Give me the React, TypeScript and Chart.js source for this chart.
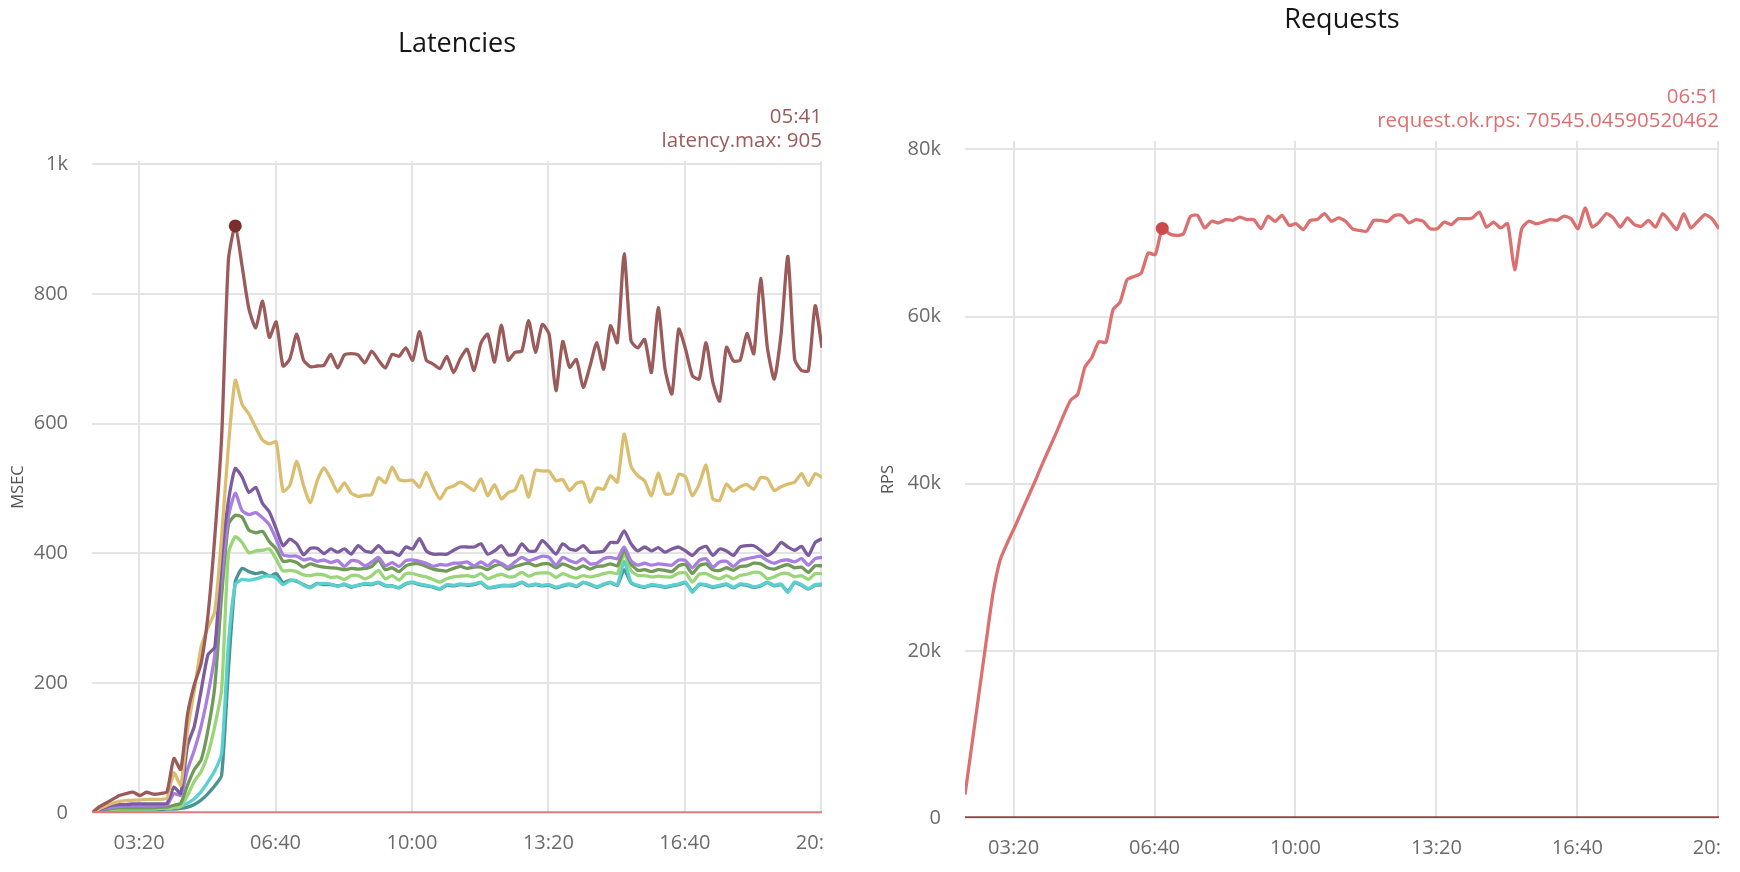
import React, { useEffect, useRef } from "react";
import { Chart, registerables } from "chart.js";

Chart.register(...registerables);

// ---- time axis (seconds since start) ----
const times = [
  131, 141, 151, 161, 171, 181, 191, 201, 211, 221,
  231, 241, 251, 261, 271, 281, 291, 301, 311, 321,
  331, 341, 351, 361, 371, 381, 391, 401, 411, 421,
  431, 441, 451, 461, 471, 481, 491, 501, 511, 521,
  531, 541, 551, 561, 571, 581, 591, 601, 611, 621,
  631, 641, 651, 661, 671, 681, 691, 701, 711, 721,
  731, 741, 751, 761, 771, 781, 791, 801, 811, 821,
  831, 841, 851, 861, 871, 881, 891, 901, 911, 921,
  931, 941, 951, 961, 971, 981, 991, 1001, 1011, 1021,
  1031, 1041, 1051, 1061, 1071, 1081, 1091, 1101, 1111, 1121,
  1131, 1141, 1151, 1161, 1171, 1181, 1191, 1201,
];
const xTickValues = [200, 400, 600, 800, 1000, 1200];
const latencyTickValues = [0, 200, 400, 600, 800, 1000];
const rpsTickValues = [0, 20000, 40000, 60000, 80000];

// ---- Latencies (msec) ----
const latMax = [
  0, 9, 15, 21, 27, 30, 32, 27, 32, 29,
  30, 33, 84, 67, 152, 198, 231, 305, 426, 579,
  853, 905, 843, 777, 748, 789, 733, 757, 689, 700,
  738, 698, 688, 689, 690, 707, 686, 706, 708, 706,
  694, 712, 698, 686, 707, 704, 717, 698, 742, 698,
  692, 685, 704, 679, 701, 715, 682, 724, 738, 695,
  752, 698, 710, 712, 759, 710, 753, 738, 651, 727,
  687, 699, 656, 689, 725, 684, 751, 725, 862, 728,
  717, 730, 679, 779, 684, 646, 746, 715, 674, 669,
  725, 664, 635, 718, 697, 698, 739, 708, 824, 717,
  669, 738, 858, 699, 682, 682, 782, 717,
];
const latP999 = [
  0, 6, 11, 15, 18, 19, 20, 20, 21, 21,
  21, 23, 62, 43, 128, 189, 256, 286, 311, 426,
  566, 667, 630, 615, 594, 575, 569, 572, 496, 505,
  542, 505, 478, 512, 532, 515, 495, 509, 493, 488,
  490, 491, 517, 509, 533, 514, 512, 513, 502, 525,
  502, 484, 500, 504, 510, 504, 497, 515, 489, 506,
  484, 494, 498, 520, 487, 528, 527, 527, 512, 514,
  497, 508, 510, 479, 501, 499, 520, 510, 584, 535,
  520, 512, 489, 524, 492, 493, 522, 518, 489, 507,
  536, 484, 482, 507, 496, 503, 506, 499, 517, 515,
  497, 503, 507, 510, 523, 505, 523, 517,
];
const latP99 = [
  0, 5, 9, 12, 13, 13, 14, 14, 14, 14,
  14, 15, 40, 30, 104, 134, 189, 244, 256, 396,
  481, 531, 518, 494, 502, 477, 464, 438, 412, 422,
  415, 398, 408, 408, 400, 407, 402, 407, 399, 412,
  404, 402, 412, 402, 402, 397, 410, 407, 423, 404,
  399, 399, 399, 405, 410, 410, 410, 415, 399, 404,
  412, 398, 399, 415, 404, 404, 420, 410, 399, 415,
  407, 405, 412, 402, 402, 404, 417, 417, 435, 415,
  404, 410, 404, 409, 402, 407, 410, 404, 397, 407,
  411, 397, 407, 404, 397, 410, 412, 412, 405, 397,
  404, 417, 410, 405, 411, 397, 417, 423,
];
const latP95 = [
  0, 4, 7, 9, 10, 11, 11, 11, 11, 11,
  12, 12, 30, 27, 67, 97, 134, 183, 244, 365,
  457, 493, 466, 460, 463, 455, 444, 422, 398, 396,
  396, 390, 392, 388, 390, 386, 389, 380, 389, 388,
  381, 387, 394, 381, 386, 380, 389, 390, 388, 385,
  380, 383, 382, 385, 385, 387, 381, 387, 381, 389,
  385, 379, 387, 394, 389, 392, 396, 394, 382, 394,
  389, 386, 392, 384, 385, 392, 394, 392, 410, 389,
  382, 385, 382, 384, 383, 382, 390, 389, 378, 389,
  392, 379, 387, 388, 380, 389, 392, 394, 396, 389,
  385, 389, 390, 387, 392, 382, 392, 394,
];
const latP90 = [
  0, 3, 5, 7, 8, 8, 8, 8, 8, 8,
  9, 9, 12, 15, 43, 67, 82, 128, 195, 335,
  445, 459, 456, 436, 432, 434, 418, 407, 388, 389,
  386, 379, 384, 381, 379, 378, 377, 375, 377, 376,
  377, 380, 390, 375, 378, 372, 381, 384, 384, 380,
  376, 374, 373, 377, 380, 377, 379, 379, 375, 381,
  383, 376, 380, 383, 385, 381, 384, 384, 378, 384,
  380, 376, 381, 376, 380, 381, 384, 381, 405, 384,
  374, 375, 372, 375, 374, 372, 381, 383, 369, 381,
  384, 375, 374, 378, 374, 380, 381, 385, 384, 378,
  376, 380, 383, 378, 379, 371, 381, 381,
];
const latP75 = [
  0, 2, 4, 5, 6, 6, 6, 6, 6, 6,
  7, 7, 8, 10, 27, 49, 64, 91, 134, 190,
  400, 426, 417, 401, 404, 405, 407, 391, 373, 374,
  372, 367, 366, 368, 367, 363, 364, 360, 366, 366,
  361, 366, 374, 361, 366, 359, 369, 369, 366, 364,
  360, 356, 361, 364, 365, 366, 364, 369, 361, 365,
  368, 364, 365, 371, 365, 369, 370, 370, 363, 369,
  365, 362, 366, 364, 366, 369, 371, 369, 400, 374,
  366, 366, 364, 365, 364, 364, 370, 370, 356, 368,
  369, 364, 361, 366, 361, 366, 368, 371, 370, 361,
  364, 369, 369, 364, 366, 360, 369, 369,
];
const latP50 = [
  0, 2, 4, 6, 7, 8, 8, 8, 8, 8,
  8, 8, 9, 10, 15, 22, 33, 48, 65, 92,
  262, 352, 360, 359, 361, 364, 366, 362, 352, 358,
  358, 351, 347, 353, 354, 353, 349, 353, 349, 351,
  354, 353, 356, 351, 349, 348, 354, 356, 353, 351,
  349, 346, 352, 351, 353, 352, 353, 356, 348, 349,
  351, 351, 352, 356, 351, 353, 351, 352, 348, 351,
  353, 350, 356, 353, 349, 353, 356, 352, 388, 356,
  351, 349, 352, 351, 349, 351, 353, 356, 340, 353,
  352, 349, 351, 353, 348, 353, 352, 349, 351, 356,
  351, 353, 340, 356, 352, 346, 352, 353,
];
const latMin = [
  0, 2, 3, 4, 5, 5, 5, 5, 5, 5,
  5, 6, 6, 7, 9, 13, 20, 30, 42, 58,
  222, 356, 377, 372, 369, 371, 365, 369, 355, 359,
  357, 352, 348, 354, 352, 352, 350, 352, 348, 351,
  353, 352, 355, 350, 350, 347, 353, 355, 352, 350,
  348, 345, 351, 350, 352, 351, 352, 355, 347, 348,
  350, 350, 351, 355, 350, 352, 350, 351, 347, 350,
  352, 349, 355, 352, 348, 352, 355, 351, 375, 355,
  350, 348, 351, 350, 348, 350, 352, 355, 342, 352,
  351, 348, 350, 352, 347, 352, 351, 348, 350, 355,
  350, 352, 342, 355, 351, 345, 351, 352,
];
const latErrors = [
  0, 0, 0, 0, 0, 0, 0, 0, 0, 0,
  0, 0, 0, 0, 0, 0, 0, 0, 0, 0,
  0, 0, 0, 0, 0, 0, 0, 0, 0, 0,
  0, 0, 0, 0, 0, 0, 0, 0, 0, 0,
  0, 0, 0, 0, 0, 0, 0, 0, 0, 0,
  0, 0, 0, 0, 0, 0, 0, 0, 0, 0,
  0, 0, 0, 0, 0, 0, 0, 0, 0, 0,
  0, 0, 0, 0, 0, 0, 0, 0, 0, 0,
  0, 0, 0, 0, 0, 0, 0, 0, 0, 0,
  0, 0, 0, 0, 0, 0, 0, 0, 0, 0,
  0, 0, 0, 0, 0, 0, 0, 0,
];

// ---- Requests (rps) ----
const rpsOk = [
  2800, 8900, 15000, 21100, 27000, 30900, 32900, 34700, 36600, 38500,
  40400, 42400, 44300, 46200, 48200, 50000, 50700, 53900, 55100, 57000,
  56900, 60800, 61700, 64400, 64800, 65200, 67600, 67400, 70545.04590520462, 69900,
  69700, 69900, 72000, 72100, 70600, 71400, 71200, 71600, 71500, 71900,
  71600, 71600, 70500, 72000, 71400, 72100, 70900, 71100, 70400, 71500,
  71600, 72300, 71400, 71800, 71400, 70500, 70300, 70200, 71500, 71500,
  71400, 72100, 72100, 71200, 71600, 71400, 70500, 70500, 71300, 71000,
  71700, 71700, 71800, 72500, 70700, 71300, 70600, 71100, 65600, 70500,
  71400, 71100, 71300, 71600, 71500, 72000, 71700, 70500, 73000, 70700,
  71300, 72300, 71800, 70700, 71800, 71000, 70800, 71500, 70700, 72300,
  71400, 70400, 72300, 70600, 71400, 72200, 71700, 70500,
];
const rpsErrors = [
  0, 0, 0, 0, 0, 0, 0, 0, 0, 0,
  0, 0, 0, 0, 0, 0, 0, 0, 0, 0,
  0, 0, 0, 0, 0, 0, 0, 0, 0, 0,
  0, 0, 0, 0, 0, 0, 0, 0, 0, 0,
  0, 0, 0, 0, 0, 0, 0, 0, 0, 0,
  0, 0, 0, 0, 0, 0, 0, 0, 0, 0,
  0, 0, 0, 0, 0, 0, 0, 0, 0, 0,
  0, 0, 0, 0, 0, 0, 0, 0, 0, 0,
  0, 0, 0, 0, 0, 0, 0, 0, 0, 0,
  0, 0, 0, 0, 0, 0, 0, 0, 0, 0,
  0, 0, 0, 0, 0, 0, 0, 0,
];

const latMarkTime = 341;
const rpsMarkTime = 411;

const FONT = "'Open Sans', sans-serif";
const GRID = "#e4e4e4";
const TICK = "#6b6b6b";

Chart.defaults.font.family = FONT;

const fmtTime = (s: number) => {
  const m = Math.floor(s / 60);
  const ss = Math.round(s % 60);
  return `${String(m).padStart(2, "0")}:${String(ss).padStart(2, "0")}`;
};

const pts = (arr: number[]) => times.map((t, i) => ({ x: t, y: arr[i] }));

const line = (label: string, arr: number[], color: string, mark?: { t: number; color: string }) => ({
  label,
  data: pts(arr),
  borderColor: color,
  backgroundColor: color,
  borderWidth: 3.3,
  tension: 0.2,
  fill: false,
  pointRadius: (c: any) => (mark && times[c.dataIndex] === mark.t ? 6.5 : 0),
  pointBackgroundColor: mark ? mark.color : color,
  pointBorderWidth: 0,
  pointHoverRadius: 0,
});

function baseOptions(o: {
  title: string;
  titlePad: { top: number; bottom: number };
  sub: string[];
  subColor: string;
  yMax: number;
  yTicks: number[];
  yFmt: (v: number) => string;
  yTitle: string;
  yWidth: number;
  xHeight: number;
}) {
  return {
    responsive: false,
    animation: false as const,
    events: [] as any[],
    layout: { padding: { left: 0, right: 1, top: 0, bottom: 0 } },
    plugins: {
      legend: { display: false },
      tooltip: { enabled: false },
      title: {
        display: true,
        text: o.title,
        fullSize: false,
        color: "#161616",
        font: { family: FONT, size: 27, weight: "normal" as const, lineHeight: 1.2 },
        padding: o.titlePad,
      },
      subtitle: {
        display: true,
        text: o.sub,
        align: "end" as const,
        fullSize: false,
        color: o.subColor,
        font: { family: FONT, size: 20.5, weight: "normal" as const, lineHeight: 24 / 20.5 },
        padding: { top: 2, bottom: 8 },
      },
    },
    scales: {
      x: {
        type: "linear" as const,
        min: times[0],
        max: times[times.length - 1],
        afterBuildTicks: (s: any) => {
          s.ticks = xTickValues.map((v) => ({ value: v }));
        },
        afterFit: (s: any) => {
          s.height = o.xHeight;
          s.paddingLeft = 0;
          s.paddingRight = 0;
        },
        ticks: {
          callback: (v: any) => fmtTime(Number(v)),
          color: TICK,
          font: { family: FONT, size: 20 },
          padding: 18,
          maxRotation: 0,
          autoSkip: false,
        },
        grid: { color: GRID, lineWidth: 2, drawTicks: false },
        border: { display: false },
      },
      y: {
        min: 0,
        max: o.yMax,
        afterBuildTicks: (s: any) => {
          s.ticks = o.yTicks.map((v) => ({ value: v }));
        },
        afterFit: (s: any) => {
          s.width = o.yWidth;
        },
        ticks: {
          callback: (v: any) => o.yFmt(Number(v)),
          color: TICK,
          font: { family: FONT, size: 20 },
          padding: 24,
        },
        title: {
          display: true,
          text: o.yTitle,
          color: "#555",
          font: { family: FONT, size: 16.5 },
          padding: { top: 8, bottom: 0 },
        },
        grid: { color: GRID, lineWidth: 2, drawTicks: false },
        border: { display: false },
      },
    },
  };
}

function ChartCanvas({ make, left, width }: { make: () => any; left: number; width: number }) {
  const ref = useRef<HTMLCanvasElement | null>(null);
  useEffect(() => {
    if (!ref.current) return;
    const chart = new Chart(ref.current, make());
    return () => chart.destroy();
  }, []);
  return (
    <canvas
      ref={ref}
      width={width}
      height={872}
      style={{ position: "absolute", left, top: 0, width, height: 872 }}
    />
  );
}

const makeLatency = () => {
  const idx = times.indexOf(latMarkTime);
  return {
    type: "line",
    data: {
      datasets: [
        line("latency.errors", latErrors, "#e07b7b"),
        line("latency.max", latMax, "#9b5b5b", { t: latMarkTime, color: "#7c2c2c" }),
        line("latency.p999", latP999, "#dbbd70"),
        line("latency.p99", latP99, "#7c5b9f"),
        line("latency.p95", latP95, "#a87fe0"),
        line("latency.p90", latP90, "#6f9a57"),
        line("latency.p75", latP75, "#9ad57a"),
        line("latency.p50", latP50, "#5ccfcf"),
        line("latency.min", latMin, "#4b9393"),
      ],
    },
    options: baseOptions({
      title: "Latencies",
      titlePad: { top: 27.8, bottom: 42.8 },
      sub: [fmtTime(latMarkTime), `latency.max: ${latMax[idx]}`],
      subColor: "#9b5b5b",
      yMax: 1005,
      yTicks: latencyTickValues,
      yFmt: (v) => (v >= 1000 ? `${v / 1000}k` : String(v)),
      yTitle: "MSEC",
      yWidth: 92,
      xHeight: 59,
    }),
  };
};

const makeRequests = () => {
  const idx = times.indexOf(rpsMarkTime);
  return {
    type: "line",
    data: {
      datasets: [
        line("request.error.rps", rpsErrors, "#8c4747"),
        line("request.ok.rps", rpsOk, "#dc7070", { t: rpsMarkTime, color: "#cc4a4a" }),
      ],
    },
    options: baseOptions({
      title: "Requests",
      titlePad: { top: 3.8, bottom: 46.8 },
      sub: [fmtTime(rpsMarkTime), `request.ok.rps: ${rpsOk[idx]}`],
      subColor: "#dc7070",
      yMax: 81000,
      yTicks: rpsTickValues,
      yFmt: (v) => (v === 0 ? "0" : `${v / 1000}k`),
      yTitle: "RPS",
      yWidth: 95,
      xHeight: 54,
    }),
  };
};

export default function App() {
  return (
    <div style={{ position: "absolute", left: 0, top: 0, width: 1740, height: 872, background: "#fff", overflow: "hidden" }}>
      <ChartCanvas make={makeLatency} left={0} width={823} />
      <ChartCanvas make={makeRequests} left={870} width={850} />
    </div>
  );
}
